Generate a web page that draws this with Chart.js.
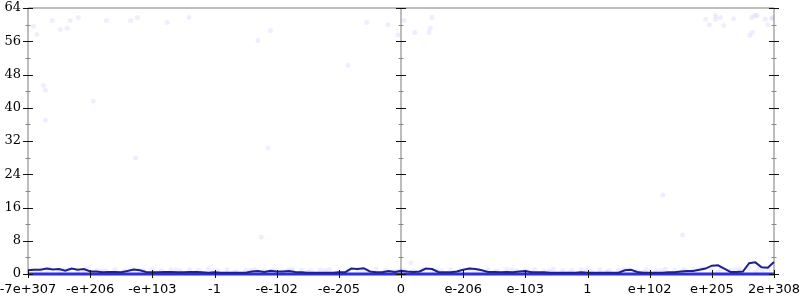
<!DOCTYPE html>
<html>
<head>
<meta charset="utf-8">
<script src="https://cdn.jsdelivr.net/npm/chart.js@4.4.0/dist/chart.umd.min.js"></script>
<style>
  html, body { margin: 0; padding: 0; background: #fff; }
  #wrap { width: 800px; height: 300px; }
</style>
</head>
<body>
<div id="wrap"><canvas id="chart" width="800" height="300"></canvas></div>
<script>
// Tick labels (x positions are -6..6 on an index scale)
const xLabels = ["-7e+307", "-e+206", "-e+103", "-1", "-e-102", "-e-205", "0",
                 "e-206", "e-103", "1", "e+102", "e+205", "2e+308"];
const yLabels = [0, 8, 16, 24, 32, 40, 48, 56, 64];

// Dark running line, sampled every 0.1 from -6 to 6
const lineX0 = -6, lineStep = 0.1;
const lineValues = [
  0.9, 1.0, 1.0, 1.3, 1.1, 1.2, 0.8, 1.3, 1.0, 1.2,
  0.6, 0.6, 0.4, 0.5, 0.5, 0.4, 0.7, 1.1, 0.9, 0.5,
  0.4, 0.4, 0.5, 0.5, 0.4, 0.4, 0.5, 0.5, 0.4, 0.3,
  0.4, 0.3, 0.3, 0.3, 0.3, 0.3, 0.6, 0.7, 0.5, 0.8,
  0.6, 0.6, 0.7, 0.5, 0.4, 0.3, 0.3, 0.3, 0.3, 0.3,
  0.4, 0.4, 1.3, 1.2, 1.4, 0.6, 0.4, 0.4, 0.7, 0.5,
  0.8, 0.6, 0.5, 0.6, 1.3, 1.2, 0.5, 0.4, 0.4, 0.6,
  1.0, 1.3, 1.2, 0.9, 0.5, 0.5, 0.4, 0.5, 0.4, 0.6,
  0.7, 0.4, 0.4, 0.4, 0.3, 0.3, 0.3, 0.3, 0.3, 0.4,
  0.3, 0.3, 0.3, 0.3, 0.3, 0.3, 0.9, 1.0, 0.5, 0.3,
  0.3, 0.3, 0.3, 0.4, 0.4, 0.6, 0.7, 0.7, 1.0, 1.3,
  2.0, 2.1, 1.3, 0.5, 0.5, 0.6, 2.6, 2.8, 1.6, 1.5,
  2.9
];

// Base line along zero
const baseX = [-6, -3, 0, 3, 6];
const baseY = [0, 0, 0, 0, 0];

// Faint scattered points
const scatterX = [
  -5.91, -5.86, -5.61, -5.48, -5.37, -5.32, -5.19, -4.74, -4.35, -4.24, -3.76, -3.41,
  -5.75, -5.72, -4.95, -5.72, -4.27, -0.55, -0.21, 0.05, 0.50, 0.22, 0.45, 0.47, -0.05,
  4.90, 4.96, 5.06, 5.06, 5.14, 5.19, 5.35, 5.64, 5.69, 5.73, 5.86, 5.90, 5.96, 5.98,
  5.61, 5.65, -2.25, 0.16, 4.53, -2.30, -2.10, -0.85, -2.14, 4.21,
  // low band
  -5.95, -5.8, -5.65, -5.5, -5.35, -5.2, -5.05, -4.9, -4.75, -4.6, -4.45, -4.3,
  -4.15, -4.0, -3.85, -3.7, -3.55, -3.4, -3.25, -3.1, -2.95, -2.8, -2.65, -2.5,
  -2.35, -2.2, -2.05, -1.9, -1.75, -1.6, -1.45, -1.3, -1.15, -1.0, -0.85, -0.7,
  -0.55, -0.4, -0.25, -0.1, 0.05, 0.2, 0.35, 0.5, 0.65, 0.8, 0.95, 1.1,
  1.25, 1.4, 1.55, 1.7, 1.85, 2.0, 2.15, 2.3, 2.45, 2.6, 2.75, 2.9,
  3.05, 3.2, 3.35, 3.5, 3.65, 3.8, 3.95, 4.1, 4.25, 4.4, 4.55, 4.7,
  4.85, 5.0, 5.15, 5.3, 5.45, 5.6, 5.75, 5.9,
  -5.7, -5.1, -4.5, -3.9, -3.3, -2.7, -2.1, -1.5, -0.9, -0.3, 0.3, 0.9,
  1.5, 2.1, 2.7, 3.3, 3.9, 4.5, 5.1, 5.7,
  -5.88, -5.42, -4.82, -4.22, -3.62, -3.02, -2.42, -1.82, -1.22, -0.62, -0.02, 0.58,
  1.18, 1.78, 2.38, 2.98, 3.58, 4.18, 4.78, 5.38, 5.82
];
const scatterY = [
  59.6, 57.6, 61.0, 58.8, 59.1, 61.0, 61.7, 61.0, 61.0, 61.7, 60.5, 61.7,
  45.4, 44.2, 41.6, 37.0, 27.9, 60.5, 60.0, 61.0, 61.7, 58.1, 58.1, 59.1, 57.5,
  61.3, 60.0, 62.2, 61.3, 61.7, 59.8, 61.4, 61.7, 62.2, 62.2, 61.3, 60.0, 61.4, 61.7,
  57.4, 58.1, 8.9, 2.7, 9.4, 56.2, 58.6, 50.2, 30.3, 19.0,
  1.1, 0.9, 1.3, 0.8, 1.0, 0.7, 1.2, 0.9, 0.8, 1.1, 0.7, 1.0,
  0.9, 1.2, 0.8, 1.0, 0.7, 1.1, 0.9, 1.3, 0.8, 1.0, 0.6, 0.9,
  1.1, 0.8, 1.0, 0.7, 1.2, 0.9, 0.8, 1.0, 1.1, 0.7, 0.9, 1.0,
  0.8, 1.2, 0.9, 0.7, 1.0, 0.8, 1.1, 0.9, 0.7, 1.0, 0.8, 1.2,
  0.9, 1.0, 0.7, 1.1, 0.8, 0.9, 1.0, 0.7, 1.2, 0.8, 0.9, 1.1,
  0.7, 1.0, 0.8, 0.9, 1.1, 0.7, 1.0, 0.8, 1.2, 0.9, 1.0, 1.1,
  1.3, 1.0, 1.2, 0.9, 1.1, 1.4, 1.2, 1.3,
  0.4, 0.5, 0.3, 0.5, 0.4, 0.3, 0.5, 0.4, 0.3, 0.5, 0.4, 0.3,
  0.5, 0.4, 0.3, 0.5, 0.4, 0.3, 0.5, 0.4,
  0.9, 1.0, 0.8, 0.9, 1.0, 0.8, 0.9, 1.0, 0.8, 0.9, 1.0, 0.8,
  0.9, 1.0, 0.8, 0.9, 1.0, 0.8, 0.9, 1.0, 0.9
];

const lineData = lineValues.map((v, i) => ({ x: lineX0 + i * lineStep, y: v }));
const baseData = baseX.map((x, i) => ({ x: x, y: baseY[i] }));
const scatterData = scatterX.map((x, i) => ({ x: x, y: scatterY[i] }));

// drop the label-overflow padding so the layout padding decides the plot area
function noPad(scale) {
  scale.paddingLeft = 0; scale.paddingRight = 0;
  scale.paddingTop = 0; scale.paddingBottom = 0;
}

// Axis lines and tick marks crossing them (left, middle, right, bottom)
const axesPlugin = {
  id: "racketAxes",
  beforeDatasetsDraw(chart) {
    const ctx = chart.ctx;
    const a = chart.chartArea;
    const xs = chart.scales.x;
    ctx.save();
    ctx.strokeStyle = "#bdbdbd";
    ctx.lineWidth = 2;
    ctx.beginPath();
    ctx.moveTo(a.left, a.top); ctx.lineTo(a.right, a.top);
    ctx.moveTo(a.left, a.top); ctx.lineTo(a.left, a.bottom);
    ctx.moveTo(a.right, a.top); ctx.lineTo(a.right, a.bottom);
    const mid = xs.getPixelForValue(0);
    ctx.moveTo(mid, a.top); ctx.lineTo(mid, a.bottom);
    ctx.moveTo(a.left, a.bottom); ctx.lineTo(a.right, a.bottom);
    ctx.stroke();
    ctx.restore();
  },
  afterDatasetsDraw(chart) {
    const ctx = chart.ctx;
    const a = chart.chartArea;
    const xs = chart.scales.x, ys = chart.scales.y;
    const axesX = [a.left, xs.getPixelForValue(0), a.right];
    ctx.save();
    ys.ticks.forEach(t => {
      const py = Math.round(ys.getPixelForValue(t.value)) + 0.5;
      const major = yLabels.includes(t.value);
      ctx.strokeStyle = major ? "#111" : "#888";
      ctx.lineWidth = 1;
      const h = major ? 5 : 2.5;
      axesX.forEach(px => {
        ctx.beginPath();
        ctx.moveTo(px - h, py); ctx.lineTo(px + h, py);
        ctx.stroke();
      });
    });
    xs.ticks.forEach(t => {
      const px = Math.round(xs.getPixelForValue(t.value)) + 0.5;
      ctx.strokeStyle = "#111";
      ctx.lineWidth = 1;
      ctx.beginPath();
      ctx.moveTo(px, a.bottom - 4); ctx.lineTo(px, a.bottom + 4);
      ctx.stroke();
    });
    ctx.restore();
  }
};

new Chart(document.getElementById("chart"), {
  type: "scatter",
  data: {
    datasets: [
      {
        label: "points",
        data: scatterData,
        showLine: false,
        pointRadius: 2.5,
        pointBorderWidth: 0,
        pointBackgroundColor: "rgba(90,90,255,0.1)",
        order: 3
      },
      {
        label: "base",
        data: baseData,
        showLine: true,
        borderColor: "rgb(45,45,225)",
        borderWidth: 3,
        pointRadius: 0,
        clip: 6,
        order: 2
      },
      {
        label: "running",
        data: lineData,
        showLine: true,
        borderColor: "rgb(32,32,140)",
        borderWidth: 2,
        pointRadius: 0,
        clip: 6,
        order: 1
      }
    ]
  },
  options: {
    responsive: false,
    animation: false,
    events: [],
    layout: { padding: { top: 8, right: 26, left: 0, bottom: 0 } },
    plugins: { legend: { display: false }, tooltip: { enabled: false } },
    scales: {
      x: {
        type: "linear",
        min: -6,
        max: 6,
        grid: { display: false, drawTicks: false },
        border: { display: false },
        afterFit(scale) { scale.height = 26; noPad(scale); },
        ticks: {
          stepSize: 1,
          autoSkip: false,
          maxRotation: 0,
          padding: 8,
          color: "#000",
          font: { family: "DejaVu Sans", size: 13 },
          callback: v => xLabels[Math.round(v) + 6]
        }
      },
      y: {
        min: 0,
        max: 64,
        grid: { display: false, drawTicks: false },
        border: { display: false },
        afterFit(scale) { scale.width = 28; noPad(scale); },
        ticks: {
          stepSize: 4,
          autoSkip: false,
          padding: 7,
          color: "#000",
          font: { family: "DejaVu Serif", size: 13 },
          callback: v => yLabels.includes(v) ? String(v) : ""
        }
      }
    }
  },
  plugins: [axesPlugin]
});
</script>
</body>
</html>
